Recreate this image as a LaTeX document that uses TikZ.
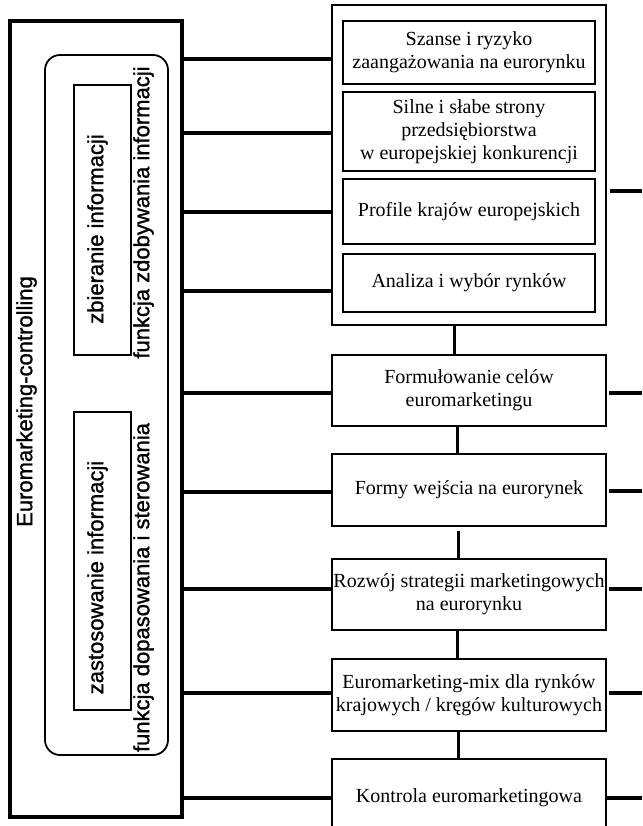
\documentclass[tikz,border=0pt]{standalone}
\usepackage{fontspec}
\setmainfont{Liberation Serif}
\setsansfont{Liberation Sans}
\newfontfamily\heavysans[FakeBold=1.2]{Liberation Sans}
\begin{document}
\begin{tikzpicture}[x=1pt,y=-1pt,
  box/.style={draw, line width=1.6pt, inner sep=0pt, align=center, font=\fontsize{20}{23}\selectfont},
  outerbox/.style={draw, line width=3.5pt, inner sep=0pt},
  roundbox/.style={draw, line width=1.8pt, inner sep=0pt, rounded corners=15pt},
  infobox/.style={draw, line width=1.8pt, inner sep=0pt},
  vlabel/.style={rotate=90, inner sep=0pt, font=\heavysans\fontsize{22}{24}\selectfont},
  link/.style={line width=3.3pt},
  vlink/.style={line width=3pt}]
\useasboundingbox (0,0) rectangle (642,826);
\clip (0,0) rectangle (642,826);
% left block
\node[outerbox, minimum width=172pt, minimum height=796pt] (outer) at (96,419) {};
\node[roundbox, minimum width=123pt, minimum height=700pt] (round) at (106.5,405) {};
\node[infobox, minimum width=57pt, minimum height=270pt] (info1) at (102.5,220) {};
\node[infobox, minimum width=57pt, minimum height=298pt] (info2) at (102.5,561) {};
\node[vlabel] (t1) at (97.5,229) {zbieranie informacji};
\node[vlabel] (t2) at (143.5,212.5) {funkcja zdobywania informacji};
\node[vlabel] (t3) at (97.5,577.5) {zastosowanie informacji};
\node[vlabel] (t4) at (143.5,587.5) {funkcja dopasowania i sterowania};
\node[vlabel] (t5) at (26.5,401.5) {Euromarketing-controlling};
% right column
\node[box, minimum width=274pt, minimum height=320pt] (cont) at (469,165) {};
\node[box, minimum width=252pt, minimum height=63pt] (b1) at (469,52.5) {Szanse i ryzyko\\zaangażowania na eurorynku};
\node[box, minimum width=252pt, minimum height=79pt] (b2) at (469,131.5) {Silne i słabe strony\\przedsiębiorstwa\\w europejskiej konkurencji};
\node[box, minimum width=252pt, minimum height=65pt] (b3) at (469,211.5) {Profile krajów europejskich};
\node[box, minimum width=252pt, minimum height=58pt] (b4) at (469,283) {Analiza i wybór rynków};
\node[box, minimum width=274pt, minimum height=71pt] (f1) at (469,390.5) {Formułowanie celów\\euromarketingu};
\node[box, minimum width=274pt, minimum height=72pt] (f2) at (469,490) {Formy wejścia na eurorynek};
\node[box, minimum width=274pt, minimum height=71pt] (f3) at (469,594.5) {Rozwój strategii marketingowych\\na eurorynku};
\node[box, minimum width=274pt, minimum height=72pt] (f4) at (469,695) {Euromarketing-mix dla rynków\\krajowych / kręgów kulturowych};
\node[box, minimum width=274pt, minimum height=78pt] (f5) at (469,798) {Kontrola euromarketingowa};
% left connectors
\foreach \yy in {59,133,212,291} \draw[link] (outer.east |- 0,\yy) -- (cont.west |- 0,\yy);
\draw[link] (outer.east |- 0,393) -- (f1.west |- 0,393);
\draw[link] (outer.east |- 0,492) -- (f2.west |- 0,492);
\draw[link] (outer.east |- 0,589) -- (f3.west |- 0,589);
\draw[link] (outer.east |- 0,693) -- (f4.west |- 0,693);
\draw[link] (outer.east |- 0,798) -- (f5.west |- 0,798);
% vertical connectors
\draw[vlink] (cont.south -| 454,0) -- (f1.north -| 454,0);
\draw[vlink] (f1.south -| 457,0) -- (f2.north -| 457,0);
\draw[vlink] ([yshift=-4pt]f2.south -| 458,0) -- (f3.north -| 458,0);
\draw[vlink] (f3.south -| 457,0) -- (f4.north -| 457,0);
\draw[vlink] (f4.south -| 458,0) -- (f5.north -| 458,0);
% right stubs
\coordinate (r0) at (642,191);
\coordinate (r1) at (642,393);
\coordinate (r2) at (642,491);
\coordinate (r3) at (642,589);
\coordinate (r4) at (642,693);
\coordinate (r5) at (642,798);
\draw[link] ([xshift=3pt]cont.east |- r0) -- (r0);
\draw[link] ([xshift=2pt]f1.east |- r1) -- (r1);
\draw[link] ([xshift=2pt]f2.east |- r2) -- (r2);
\draw[link] ([xshift=2pt]f3.east |- r3) -- (r3);
\draw[link] ([xshift=2pt]f4.east |- r4) -- (r4);
\draw[link] (f5.east |- r5) -- (r5);
\end{tikzpicture}
\end{document}
